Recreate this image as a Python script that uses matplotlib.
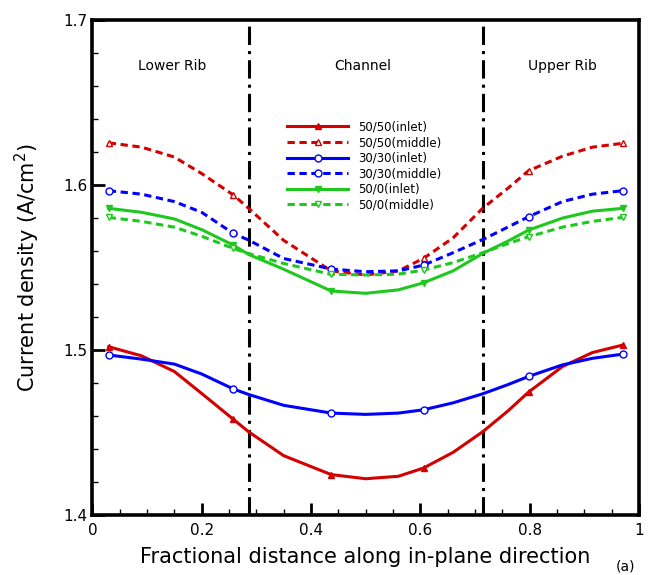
import matplotlib
matplotlib.use("Agg")
import matplotlib.pyplot as plt
from matplotlib.ticker import MultipleLocator

# fractional position across the rib/channel/rib section
x = [0.03, 0.09, 0.15, 0.2, 0.258, 0.2857, 0.35, 0.437, 0.5, 0.56, 0.606,
     0.66, 0.7143, 0.76, 0.798, 0.86, 0.915, 0.97]
mark_idx = [0, 4, 7, 10, 14, 17]

# current density, A/cm^2
j_5050_inlet = [1.502, 1.4965, 1.487, 1.4737, 1.458, 1.4505, 1.436, 1.4245, 1.422,
                1.4235, 1.4285, 1.438, 1.4505, 1.463, 1.4745, 1.490, 1.4985, 1.503]
j_5050_middle = [1.6256, 1.623, 1.617, 1.607, 1.594, 1.586, 1.5665, 1.548, 1.5455,
                 1.548, 1.5556, 1.568, 1.586, 1.598, 1.6087, 1.6175, 1.623, 1.6253]
j_3030_inlet = [1.497, 1.4945, 1.4915, 1.4855, 1.4764, 1.4731, 1.4665, 1.4618, 1.461,
                1.4618, 1.4638, 1.468, 1.4735, 1.479, 1.484, 1.491, 1.495, 1.4975]
j_3030_middle = [1.5966, 1.5945, 1.590, 1.5835, 1.5707, 1.5667, 1.5555, 1.5491, 1.5475,
                 1.548, 1.5515, 1.559, 1.567, 1.5745, 1.5808, 1.590, 1.5945, 1.5966]
j_500_inlet = [1.5859, 1.5835, 1.5795, 1.573, 1.5636, 1.558, 1.549, 1.5358, 1.5344,
               1.5365, 1.5408, 1.548, 1.5586, 1.566, 1.5727, 1.580, 1.5842, 1.5859]
j_500_middle = [1.5804, 1.578, 1.5745, 1.569, 1.5616, 1.5585, 1.5525, 1.5459, 1.5455,
                1.546, 1.5485, 1.553, 1.559, 1.5645, 1.5687, 1.5745, 1.578, 1.5804]

rib_edges = [0.2857, 0.7143]
regions = ["Lower Rib", "Channel", "Upper Rib"]
region_x = [0.146, 0.495, 0.86]

xticks = [0, 0.2, 0.4, 0.6, 0.8, 1]
xtick_labels = ["0", "0.2", "0.4", "0.6", "0.8", "1"]
yticks = [1.4, 1.5, 1.6, 1.7]
ytick_labels = ["1.4", "1.5", "1.6", "1.7"]

RED = "#d40000"
BLUE = "#0000ff"
GREEN = "#1ec81e"
DASH = (0, (2.4, 1.5))

series = [
    (j_5050_inlet, "50/50(inlet)", RED, "-", "^", RED),
    (j_5050_middle, "50/50(middle)", RED, DASH, "^", "white"),
    (j_3030_inlet, "30/30(inlet)", BLUE, "-", "o", "white"),
    (j_3030_middle, "30/30(middle)", BLUE, DASH, "o", "white"),
    (j_500_inlet, "50/0(inlet)", GREEN, "-", "v", GREEN),
    (j_500_middle, "50/0(middle)", GREEN, DASH, "v", "white"),
]

fig = plt.figure(figsize=(6.48, 5.75), dpi=100)
ax = fig.add_axes([0.1425, 0.1043, 0.8435, 0.8607])

for xe in rib_edges:
    ax.axvline(xe, color="black", lw=2.2, ls=(0, (6, 2, 1, 2)), zorder=1)

for y, label, col, ls, mk, fc in series:
    ax.plot(x, y, color=col, ls=ls, lw=2.2, marker=mk, markevery=mark_idx,
            ms=5, mfc=fc, mec=col, mew=1.0, label=label, zorder=3)

for name, xr in zip(regions, region_x):
    ax.text(xr, 1.672, name, ha="center", va="center", fontsize=10)

ax.set_xlim(0, 1)
ax.set_ylim(1.4, 1.7)
ax.set_xticks(xticks)
ax.set_xticklabels(xtick_labels)
ax.set_yticks(yticks)
ax.set_yticklabels(ytick_labels)
ax.xaxis.set_minor_locator(MultipleLocator(0.05))
ax.yaxis.set_minor_locator(MultipleLocator(0.02))
ax.tick_params(which="both", direction="in", top=False, right=False, labelsize=11)
ax.tick_params(axis="x", which="major", pad=6)
ax.tick_params(which="major", length=9, width=2)
ax.tick_params(which="minor", length=4.5, width=1)
for sp in ax.spines.values():
    sp.set_linewidth(2.6)

ax.set_xlabel("Fractional distance along in-plane direction", fontsize=15, labelpad=6)
ax.set_ylabel("Current density (A/cm$^2$)", fontsize=15, labelpad=15)

ax.legend(loc="upper left", bbox_to_anchor=(0.356, 0.797), frameon=False,
          fontsize=8.5, handlelength=5.2, handletextpad=0.8, labelspacing=0.22,
          numpoints=1, borderpad=0, borderaxespad=0)

fig.text(0.965, 0.002, "(a)", fontsize=10, ha="center", va="bottom")

fig.savefig("out.png", dpi=100)
